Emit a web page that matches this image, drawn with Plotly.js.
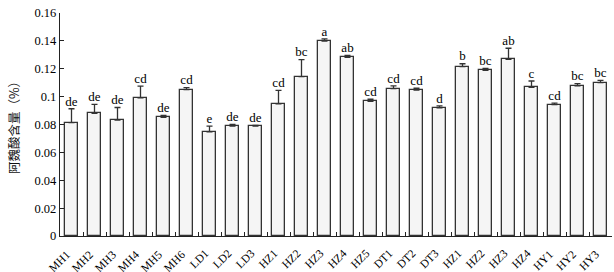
<!DOCTYPE html>
<html><head><meta charset="utf-8">
<script src="https://cdn.plot.ly/plotly-3.0.1.min.js"></script>
<style>html,body{margin:0;padding:0;background:#fff}</style>
</head><body><div id="chart" style="width:614px;height:272px"></div>
<script>
const categories = ["MH1","MH2","MH3","MH4","MH5","MH6","LD1","LD2","LD3","HZ1","HZ2","HZ3","HZ4","HZ5","DT1","DT2","DT3","HZ1","HZ2","HZ3","HZ4","HY1","HY2","HY3"];
const values = [0.0813,0.0880,0.0832,0.0992,0.0851,0.1050,0.0748,0.0789,0.0789,0.0949,0.1143,0.1399,0.1282,0.0966,0.1057,0.1047,0.0920,0.1215,0.1189,0.1268,0.1067,0.0942,0.1078,0.1100];
const errors = [0.0100,0.0065,0.0090,0.0084,0.0015,0.0014,0.0040,0.0012,0.0005,0.0096,0.0122,0.0016,0.0014,0.0015,0.0020,0.0013,0.0013,0.0021,0.0014,0.0079,0.0045,0.0012,0.0015,0.0017];
const letters = ["de","de","de","cd","de","cd","e","de","de","cd","bc","a","ab","cd","cd","cd","d","b","bc","ab","c","cd","bc","bc"];
const yTicks = [0,0.02,0.04,0.06,0.08,0.1,0.12,0.14,0.16];
const yTickText = ["0","0.02","0.04","0.06","0.08","0.1","0.12","0.14","0.16"];

const idx = categories.map((c,i)=>i);
const boundaries = idx.map(i=>i+0.5);
const serif = "Liberation Serif, Times New Roman, serif";

const bars = {
  type:"bar", x: idx, y: values,
  marker:{color:"#f5f5f5", line:{color:"#333", width:1.3}},
  width:0.58,
  error_y:{type:"data", symmetric:false, array:errors, arrayminus:errors.map(()=>0), color:"#333", thickness:1.3, width:3},
  hoverinfo:"none"
};
const labels = {
  type:"scatter", mode:"text", x: idx, y: values.map((v,i)=>v+errors[i]),
  text: letters, textposition:"top center",
  textfont:{family:serif, size:13, color:"#000"},
  hoverinfo:"none", cliponaxis:false
};

// Category labels drawn as rotated annotations anchored at each category position
const catAnnotations = categories.map((c,i)=>({
  x: i, xref:"x", y: 0, yref:"paper",
  text: c, showarrow:false, textangle:-45,
  xanchor:"right", yanchor:"top", xshift:4, yshift:-9,
  font:{family:serif, size:11.5, color:"#000"}
}));

const layout = {
  width:614, height:272,
  margin:{l:60, r:2, t:13, b:36, autoexpand:false},
  paper_bgcolor:"#fff", plot_bgcolor:"#fff",
  showlegend:false,
  bargap:0,
  annotations: catAnnotations,
  xaxis:{
    range:[-0.5, 23.5], tickmode:"array", tickvals: boundaries,
    showticklabels:false, ticks:"inside", ticklen:4, tickcolor:"#222", tickwidth:1,
    showgrid:false, zeroline:false,
    showline:true, linecolor:"#222", linewidth:1.3
  },
  yaxis:{
    range:[0, 0.16], tickmode:"array", tickvals: yTicks, ticktext: yTickText,
    ticks:"inside", ticklen:4, tickcolor:"#222", tickwidth:1,
    showgrid:false, zeroline:false, showline:true, linecolor:"#222", linewidth:1.3,
    tickfont:{family:serif, size:12.5, color:"#000"},
    title:{text:"阿魏酸含量（%）", font:{family:"Noto Sans CJK SC", size:12.5, color:"#111"}, standoff:12}
  }
};
Plotly.newPlot("chart", [bars, labels], layout, {displayModeBar:false});
</script></body></html>
